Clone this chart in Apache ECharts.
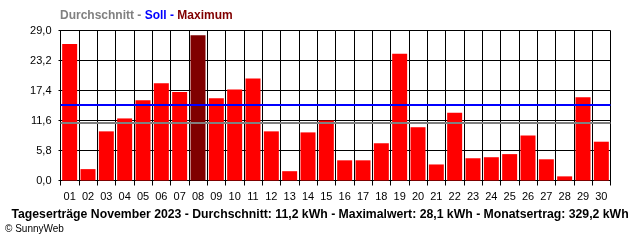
<!DOCTYPE html>
<html><head><meta charset="utf-8">
<script src="https://cdn.jsdelivr.net/npm/echarts@6/dist/echarts.min.js"></script>
<style>html,body{margin:0;padding:0;background:#fff}#c{width:640px;height:240px}</style>
</head><body><div id="c"></div>
<script>
const days = ["01","02","03","04","05","06","07","08","09","10","11","12","13","14","15","16","17","18","19","20","21","22","23","24","25","26","27","28","29","30"];
const yields = [26.4,2.2,9.5,12.0,15.5,18.8,17.1,28.1,15.9,17.6,19.7,9.5,1.8,9.3,11.6,3.9,3.9,7.2,24.5,10.3,3.1,13.1,4.3,4.5,5.1,8.7,4.1,0.8,16.1,7.5];
const average = 11.2;
const target = 14.6;
const yTicks = [0, 5.8, 11.6, 17.4, 23.2, 29.0];
const maxIdx = yields.indexOf(Math.max(...yields));
const fmt = v => v.toFixed(1).replace('.', ',');

const chart = echarts.init(document.getElementById('c'), null, {renderer: 'canvas'});
chart.setOption({
  animation: false,
  textStyle: {fontFamily: 'Liberation Sans'},
  title: [
    {text: '{g|Durchschnitt - }{b|Soll - }{m|Maximum}', left: 60, top: 10, padding: 0,
     textStyle: {rich: {
       g: {color: '#808080', fontWeight: 'bold', fontSize: 12, fontFamily: 'Liberation Sans'},
       b: {color: '#0000ff', fontWeight: 'bold', fontSize: 12, fontFamily: 'Liberation Sans'},
       m: {color: '#800000', fontWeight: 'bold', fontSize: 12, fontFamily: 'Liberation Sans'}}}},
    {text: 'Tageserträge November 2023 - Durchschnitt: 11,2 kWh - Maximalwert: 28,1 kWh - Monatsertrag: 329,2 kWh',
     left: 'center', top: 209, padding: 0, textStyle: {color: '#000', fontWeight: 'bold', fontSize: 12.25, fontFamily: 'Liberation Sans'}},
    {text: '© SunnyWeb', left: 5, top: 224, padding: 0, textStyle: {color: '#000', fontWeight: 'normal', fontSize: 10, fontFamily: 'Liberation Sans'}}
  ],
  grid: {left: 60.5, right: 29.5, top: 30.5, bottom: 59.5, containLabel: false},
  xAxis: {
    type: 'category', data: days, boundaryGap: true,
    axisLine: {lineStyle: {color: '#000', width: 1}},
    axisTick: {show: true, length: 5, lineStyle: {color: '#000'}},
    axisLabel: {color: '#000', fontSize: 11, margin: 11, interval: 0},
    splitLine: {show: true, interval: 0, lineStyle: {color: '#000', width: 1}}
  },
  yAxis: {
    type: 'value', min: 0, max: 29, interval: 5.8,
    axisLine: {show: true, lineStyle: {color: '#000', width: 1}},
    axisTick: {show: true, length: 2, lineStyle: {color: '#000'}},
    axisLabel: {color: '#000', fontSize: 11, margin: 9, formatter: v => fmt(v)},
    splitLine: {show: true, lineStyle: {color: '#000', width: 1}}
  },
  series: [{
    type: 'bar', barWidth: 15,
    data: yields.map((v, i) => ({value: v, itemStyle: {color: i === maxIdx ? '#800000' : '#ff0000'}})),
    markLine: {
      silent: true, symbol: 'none', label: {show: false},
      data: [
        {yAxis: target, lineStyle: {color: '#0000ff', width: 2, type: 'solid'}},
        {yAxis: average, lineStyle: {color: '#808080', width: 2, type: 'solid'}}
      ]
    }
  }]
});
</script></body></html>
